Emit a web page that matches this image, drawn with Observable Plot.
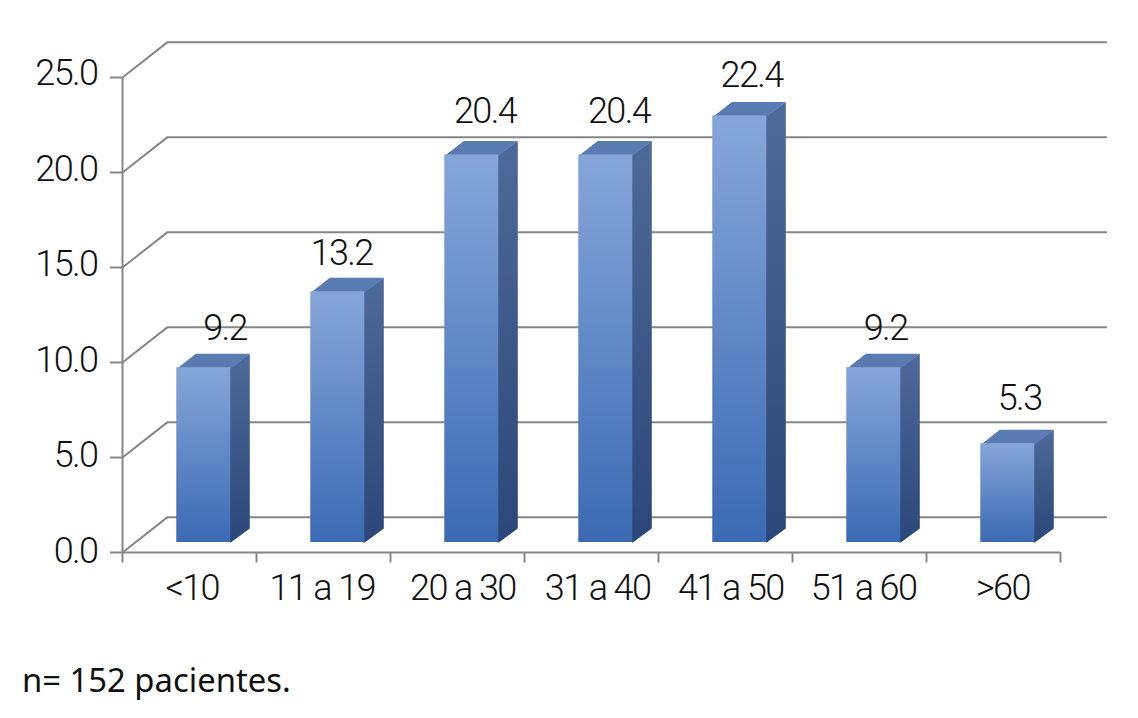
<!DOCTYPE html>
<html>
<head>
<meta charset="utf-8">
<script src="https://cdn.jsdelivr.net/npm/d3@7"></script>
<script src="https://cdn.jsdelivr.net/npm/@observablehq/plot@0.6"></script>
<style>
html,body{margin:0;padding:0;background:#fff;}
svg{display:block;}
#caption{position:absolute;left:22px;top:659px;font:32.8px/42px "Noto Sans",sans-serif;color:#111;white-space:pre;}
</style>
</head>
<body>
<div id="chart"></div>
<div id="caption">n= 152 pacientes.</div>
<script>
const categories = ["<10","11 a 19","20 a 30","31 a 40","41 a 50","51 a 60",">60"];
const values = [9.2,13.2,20.4,20.4,22.45,9.2,5.2];
const valueLabels = ["9.2","13.2","20.4","20.4","22.4","9.2","5.3"];
const yTicks = [0,5,10,15,20,25];
const xTicks = [0,1,2,3,4,5,6,7];

// oblique projection, in data units
const wallX = 0.336, wallY = 1.86;
const barLeft = 0.405, barWidth = 0.403, barBase = 0.526;
const sideX = 0.142, sideY = 0.737;
const overlapX = 0.006, overlapY = 0.05;
const labelNudge = [0.16,0.03,0.10,0.10,0.09,0.09,0.09];
const labelLift = [2.05,2.0,2.27,2.27,2.15,2.05,2.4];
const catNudge = [0.02,-0.01,0.04,0.045,0.04,0.03,0.07];

const bars = values.map((v,i)=>({v,i,cat:categories[i],
  l:i+barLeft, r:i+barLeft+barWidth, b:barBase, t:barBase+v}));
const side = bars.flatMap(d=>[[d.r-overlapX,d.b],[d.r,d.b],[d.r+sideX,d.b+sideY],[d.r+sideX,d.t+sideY],[d.r,d.t],[d.r-overlapX,d.t]].map(([x,y])=>({x,y,id:d.i})));
const top_ = bars.flatMap(d=>[[d.l,d.t-overlapY],[d.r,d.t-overlapY],[d.r+sideX,d.t+sideY],[d.l+sideX,d.t+sideY]].map(([x,y])=>({x,y,id:d.i})));

function defs(){
  const g = d3.create("svg:defs");
  const grad=(id,a,b)=>{const l=g.append("linearGradient").attr("id",id).attr("x1",0).attr("y1",0).attr("x2",0).attr("y2",1);
    l.append("stop").attr("offset","0%").attr("stop-color",a);
    l.append("stop").attr("offset","100%").attr("stop-color",b);};
  grad("front","#86a6d9","#3b6ab4");
  grad("sideGrad","#4d6a9a","#2b4678");
  return g.node();
}
const grey="#868686";
const font='Roboto,"Liberation Sans",sans-serif';
const ink={fontSize:36,fontWeight:300,fill:"#111"};
const plot = Plot.plot({
  width:1138,height:640,
  marginLeft:122,marginRight:78,marginTop:77,marginBottom:88,
  style:{background:"transparent",fontFamily:font,overflow:"visible",letterSpacing:"-1.6px"},
  x:{domain:[0,7],range:[122,1060],axis:null},
  y:{domain:[0,25],range:[552,77],axis:null},
  marks:[
    defs,
    Plot.ruleY(yTicks,{y:d=>d+wallY,x1:wallX,x2:7.35,stroke:grey,strokeWidth:2}),
    Plot.link(yTicks,{x1:0,y1:d=>d,x2:wallX,y2:d=>d+wallY,stroke:grey,strokeWidth:2}),
    Plot.ruleX([0],{y1:0,y2:25,stroke:grey,strokeWidth:2}),
    Plot.ruleY([0],{x1:0,x2:7,stroke:grey,strokeWidth:2}),
    Plot.ruleX(xTicks,{y1:0,y2:-0.55,stroke:grey,strokeWidth:2}),
    Plot.ruleY(yTicks,{x1:-0.09,x2:0,stroke:grey,strokeWidth:2}),
    Plot.line(side,{x:"x",y:"y",z:"id",fill:"url(#sideGrad)",stroke:"none"}),
    Plot.line(top_,{x:"x",y:"y",z:"id",fill:"#5a7ab2",stroke:"none"}),
    Plot.rect(bars,{x1:"l",x2:"r",y1:"b",y2:"t",fill:"url(#front)"}),
    Plot.text(bars,{x:d=>d.i+0.5+barLeft-0.30+labelNudge[d.i],y:d=>d.t+labelLift[d.i],text:d=>valueLabels[d.i],...ink}),
    Plot.text(yTicks,{x:-0.187,y:d=>d*1.006,text:d=>d.toFixed(1),textAnchor:"end",dy:-1,...ink}),
    Plot.text(categories,{x:(d,i)=>i+0.5+catNudge[i],y:-1.87,text:d=>d,...ink})
  ]
});
document.getElementById("chart").append(plot);
</script>
</body>
</html>
